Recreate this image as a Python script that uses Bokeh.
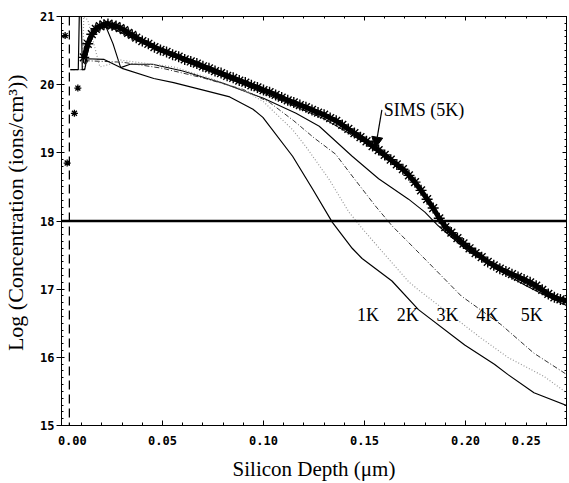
from bokeh.plotting import figure
from bokeh.embed import file_html
from bokeh.resources import INLINE
from bokeh.core.properties import value
from bokeh.models import Span, Arrow, NormalHead, FixedTicker, LinearAxis, Range1d

# ---------------- data (depth in um, log10 concentration) ----------------
sims_x = [0.011, 0.013, 0.015, 0.017, 0.019, 0.021, 0.023, 0.025, 0.027, 0.029,
          0.031, 0.033, 0.035, 0.037, 0.040, 0.043, 0.046, 0.049, 0.052, 0.055,
          0.058, 0.061, 0.064, 0.067, 0.070, 0.073, 0.076, 0.079, 0.082, 0.085,
          0.088, 0.091, 0.094, 0.097, 0.100, 0.103, 0.106, 0.109, 0.112, 0.115,
          0.118, 0.121, 0.124, 0.127, 0.130, 0.133, 0.136, 0.139, 0.142, 0.145,
          0.148, 0.151, 0.154, 0.157, 0.160, 0.163, 0.166, 0.169, 0.172, 0.175,
          0.178, 0.181, 0.184, 0.187, 0.190, 0.193, 0.196, 0.199, 0.202, 0.205,
          0.208, 0.211, 0.214, 0.217, 0.220, 0.223, 0.226, 0.229, 0.232, 0.235,
          0.238, 0.241, 0.244, 0.247, 0.250]
sims_y = [20.40, 20.60, 20.74, 20.82, 20.86, 20.88, 20.89, 20.87, 20.86, 20.83,
          20.80, 20.76, 20.73, 20.69, 20.64, 20.60, 20.55, 20.51, 20.48, 20.44,
          20.41, 20.37, 20.34, 20.31, 20.27, 20.24, 20.20, 20.17, 20.13, 20.10,
          20.06, 20.03, 19.99, 19.96, 19.92, 19.89, 19.85, 19.81, 19.77, 19.74,
          19.70, 19.67, 19.63, 19.59, 19.56, 19.51, 19.47, 19.41, 19.35, 19.29,
          19.23, 19.17, 19.10, 19.04, 18.97, 18.90, 18.83, 18.76, 18.67, 18.57,
          18.45, 18.32, 18.19, 18.04, 17.91, 17.83, 17.75, 17.67, 17.60, 17.53,
          17.47, 17.40, 17.35, 17.30, 17.26, 17.22, 17.18, 17.14, 17.10, 17.05,
          16.99, 16.93, 16.88, 16.85, 16.83]
sims_surface_x = [0.0018, 0.0028, 0.0064, 0.0081]
sims_surface_y = [20.72, 18.85, 19.58, 19.95]

k1_x = [0.0044, 0.0083, 0.0088, 0.0098, 0.0103, 0.0115, 0.0125, 0.0211, 0.030, 0.0457,
        0.0555, 0.0702, 0.0833, 0.0948, 0.0997, 0.1144, 0.1243, 0.1341, 0.1439, 0.1488,
        0.1636, 0.1767, 0.1996, 0.2143, 0.2209, 0.2339, 0.2503]
k1_y = [20.22, 20.22, 21.0, 21.0, 20.22, 20.22, 20.38, 20.37, 20.24, 20.09,
        20.03, 19.92, 19.82, 19.64, 19.52, 18.95, 18.47, 17.98, 17.60, 17.45,
        17.12, 16.70, 16.18, 15.90, 15.75, 15.48, 15.29]

k2_x = [0.0044, 0.0105, 0.011, 0.013, 0.016, 0.019, 0.024, 0.0293, 0.0555, 0.075,
        0.090, 0.100, 0.1144, 0.121, 0.1325, 0.1423, 0.150, 0.1718, 0.1767, 0.2012,
        0.2078, 0.2209, 0.2389, 0.250]
k2_y = [20.22, 20.22, 21.0, 20.95, 20.60, 20.26, 20.30, 20.36, 20.26, 20.08,
        19.92, 19.75, 19.34, 19.09, 18.61, 18.13, 17.85, 17.11, 16.99, 16.43,
        16.28, 16.00, 15.72, 15.48]

k3_x = [0.0044, 0.011, 0.013, 0.030, 0.050, 0.070, 0.090, 0.103, 0.115, 0.125,
        0.1357, 0.1439, 0.1554, 0.1636, 0.175, 0.1979, 0.2176, 0.2339, 0.250]
k3_y = [20.22, 20.22, 20.35, 20.33, 20.24, 20.10, 19.93, 19.74, 19.47, 19.22,
        18.98, 18.66, 18.22, 17.93, 17.59, 16.90, 16.48, 16.06, 15.75]

k4_x = [0.0115, 0.014, 0.018, 0.022, 0.0255, 0.0293, 0.034, 0.045, 0.060, 0.080,
        0.100, 0.1161, 0.1276, 0.1439, 0.157, 0.1718, 0.1799, 0.1865, 0.2012, 0.215,
        0.230, 0.240, 0.250]
k4_y = [20.30, 20.60, 20.85, 20.85, 20.60, 20.25, 20.30, 20.30, 20.20, 20.02,
        19.80, 19.58, 19.39, 18.95, 18.62, 18.32, 18.13, 17.93, 17.56, 17.30,
        17.05, 16.90, 16.76]

k5_x = [0.0115, 0.015, 0.020, 0.025, 0.035, 0.050, 0.070, 0.090, 0.110, 0.130,
        0.150, 0.170, 0.185, 0.200, 0.220, 0.240, 0.250]
k5_y = [20.30, 20.70, 20.84, 20.83, 20.68, 20.47, 20.23, 20.00, 19.75, 19.50,
        19.15, 18.70, 18.15, 17.62, 17.24, 16.92, 16.80]

curve_labels = ["1K", "2K", "3K", "4K", "5K"]
curve_label_x = [0.1463, 0.1660, 0.1857, 0.2053, 0.2274]
curve_label_y = [16.62, 16.62, 16.62, 16.62, 16.62]

sims_label = ["SIMS (5K)"]
sims_label_x = [0.1595]
sims_label_y = [19.63]
arrow_x = [0.1586, 0.1554]
arrow_y = [19.63, 19.07]

surface_x = 0.0039
threshold_y = 18.0

x_ticks = [0.0, 0.05, 0.10, 0.15, 0.20, 0.25]
x_tick_labels = ["0.00", "0.05", "0.10", "0.15", "0.20", "0.25"]
y_ticks = [15, 16, 17, 18, 19, 20, 21]
y_tick_labels = ["15", "16", "17", "18", "19", "20", "21"]

# ---------------- figure ----------------
p = figure(width=569, height=483, x_range=Range1d(0, 0.25), y_range=Range1d(15, 21),
           output_backend="svg", toolbar_location=None,
           min_border_left=57, min_border_right=3, min_border_top=16, min_border_bottom=54,
           background_fill_color="white", border_fill_color="white")
p.xgrid.visible = False
p.ygrid.visible = False
p.outline_line_color = "black"
p.outline_line_width = 1

x_minor = [round(0.01 * i, 2) for i in range(26)]
y_minor = [round(15 + 0.1 * i, 1) for i in range(61)]
xt = FixedTicker(ticks=x_ticks, minor_ticks=x_minor)
yt = FixedTicker(ticks=y_ticks, minor_ticks=y_minor)

xover = {}
for i, (t, lab) in enumerate(zip(x_ticks, x_tick_labels)):
    if i == 0:
        xover[t] = "\u00a0" * 3 + lab
    elif i == len(x_ticks) - 1:
        xover[t] = lab + "\u00a0" * 4
    else:
        xover[t] = lab

tick_font = "DejaVu Sans Mono"
xa = p.xaxis[0]
xa.ticker = xt
xa.major_label_overrides = xover
xa.major_tick_in = 5
xa.major_tick_out = 0
xa.minor_tick_in = 3
xa.minor_tick_out = 0
xa.major_label_standoff = 8
xa.major_label_text_font = tick_font
xa.major_label_text_font_style = "bold"
xa.major_label_text_font_size = "12px"
xa.major_label_text_color = "black"
xa.axis_label = "Silicon Depth (\u03bcm)"
xa.axis_label_text_font = "Liberation Serif"
xa.axis_label_text_font_style = "normal"
xa.axis_label_text_font_size = "21px"
xa.axis_label_text_color = "black"
xa.axis_label_standoff = 6

ya = p.yaxis[0]
ya.ticker = yt
ya.major_label_overrides = {t: lab for t, lab in zip(y_ticks, y_tick_labels)}
ya.major_tick_in = 3
ya.major_tick_out = 5
ya.minor_tick_in = 2
ya.minor_tick_out = 0
ya.major_label_standoff = 2
ya.major_label_text_font = tick_font
ya.major_label_text_font_style = "bold"
ya.major_label_text_font_size = "12px"
ya.major_label_text_color = "black"
ya.axis_label = "\u00a0" * 3 + "Log (Concentration (ions/cm\u00b3))"
ya.axis_label_text_font = "Liberation Serif"
ya.axis_label_text_font_style = "normal"
ya.axis_label_text_font_size = "22px"
ya.axis_label_text_color = "black"
ya.axis_label_standoff = 9

top = LinearAxis(ticker=xt, major_tick_in=4, major_tick_out=0, minor_tick_in=2, minor_tick_out=0,
                 major_label_text_font_size="1px", major_label_text_color=None,
                 major_label_text_alpha=0, major_label_standoff=0)
right = LinearAxis(ticker=yt, major_tick_in=4, major_tick_out=0, minor_tick_in=2, minor_tick_out=0,
                   major_label_text_font_size="1px", major_label_text_color=None,
                   major_label_text_alpha=0, major_label_standoff=0)
p.add_layout(top, "above")
p.add_layout(right, "right")

# reference lines
p.add_layout(Span(location=threshold_y, dimension="width", line_color="black", line_width=2.5))
p.add_layout(Span(location=surface_x, dimension="height", line_color="black",
                  line_width=1.3, line_dash="9 5"))

# simulated profiles
p.line(k5_x, k5_y, line_color="black", line_width=1)
p.line(k4_x, k4_y, line_color="black", line_width=1.1)
p.line(k3_x, k3_y, line_color="#333333", line_width=1, line_dash="5 2 1 2")
p.line(k2_x, k2_y, line_color="#999999", line_width=1.2, line_dash="1 2")
p.line(k1_x, k1_y, line_color="black", line_width=1.2)

# SIMS measurement
p.line(sims_x, sims_y, line_color="black", line_width=5)
p.scatter(sims_x, sims_y, marker="asterisk", size=11, line_color="black", line_width=1.4)
p.scatter(sims_surface_x, sims_surface_y, marker="asterisk", size=7, line_color="black", line_width=1.3)

# annotations
p.text(curve_label_x, curve_label_y, text=curve_labels, text_font=value("Liberation Serif"),
       text_font_size="18px", text_baseline="alphabetic", text_align="left", text_color="black")
p.text(sims_label_x, sims_label_y, text=sims_label, text_font=value("Liberation Serif"),
       text_font_size="18px", text_baseline="alphabetic", text_align="left", text_color="black")
p.add_layout(Arrow(end=NormalHead(size=11, fill_color="black", line_color="black"),
                   x_start=arrow_x[0], y_start=arrow_y[0], x_end=arrow_x[1], y_end=arrow_y[1],
                   line_color="black", line_width=1.2))

open("out.html", "w").write(file_html(p, INLINE))
